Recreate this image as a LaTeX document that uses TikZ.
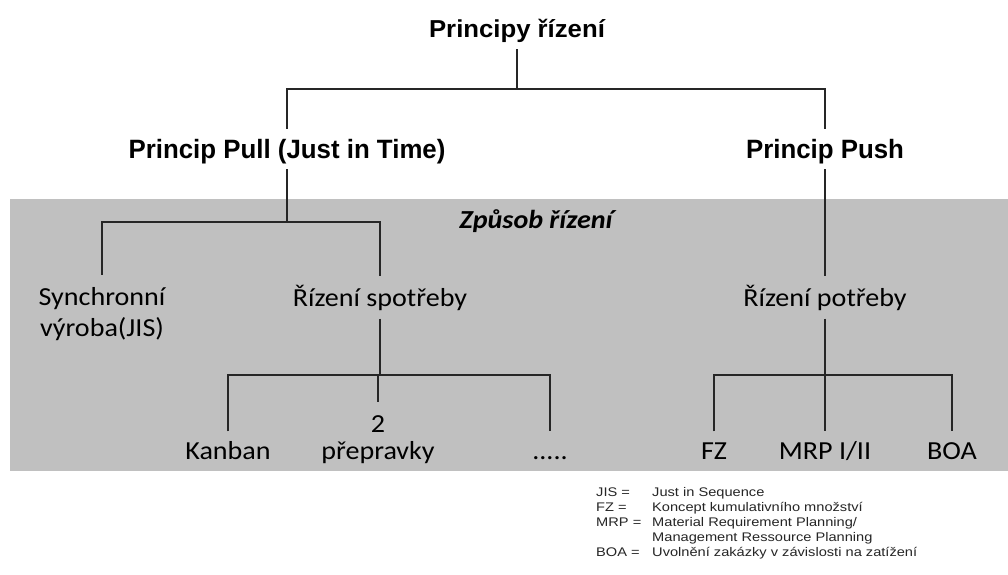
\documentclass[tikz,border=0pt]{standalone}
\usepackage{fontspec}
\setmainfont{Carlito}[FakeStretch=1.08]
\newfontfamily\rootfont[FakeStretch=1.05]{Liberation Sans}
\newfontfamily\titlefont[FakeStretch=0.975]{Liberation Sans}
\newfontfamily\notefont[FakeStretch=1.17]{Liberation Sans}
\begin{document}
\begin{tikzpicture}[x=1pt,y=-1pt,
  head/.style={font=\titlefont\bfseries\fontsize{26.5}{30}\selectfont, inner xsep=0pt, inner ysep=2pt,
               text height=27pt, text depth=9pt, anchor=base},
  leaf/.style={font=\fontsize{26}{31}\selectfont, inner xsep=0pt, inner ysep=2pt,
               text height=27.5pt, text depth=10.5pt, anchor=base, align=center},
  wire/.style={draw=black!85, line width=1.3pt},
  stem/.style={draw=black!85, line width=1.8pt},
  legend/.style={font=\notefont\fontsize{12.5}{15}\selectfont, text=black!85, anchor=base west, inner sep=0pt}]

  % canvas and shaded band
  \useasboundingbox (0,0) rectangle (1008,574);
  \fill[white] (0,0) rectangle (1008,574);
  \fill[fill={rgb,255:red,192;green,192;blue,192}] (10,199) rectangle (1008,471);

  % top levels
  \node[font=\rootfont\bfseries\fontsize{24.5}{28}\selectfont, inner sep=0pt, anchor=base,
        text depth=12pt] (root) at (517,37) {Principy řízení};
  \node[head] (pull) at (287,158) {Princip Pull (Just in Time)};
  \node[head] (push) at (825,158) {Princip Push};

  \node[font=\bfseries\itshape\fontsize{26}{30}\selectfont, anchor=base, inner sep=0pt]
    (mode) at (536,228) {Způsob řízení};

  % second level
  \node[leaf, text height=59pt] (sync) at (102,336) {Synchronní\\výroba(JIS)};
  \node[leaf] (spot) at (380,306) {Řízení spotřeby};
  \node[leaf] (potr) at (825,306) {Řízení potřeby};

  % third level
  \node[leaf, text height=25.5pt] (kanban) at (228,459) {Kanban};
  \node[leaf, text height=55pt] (prep) at (378,459) {2\\[-4pt]přepravky};
  \node[leaf, text height=25.5pt] (dots) at (550,459) {.....};
  \node[leaf, text height=25.5pt] (fz) at (714,459) {FZ};
  \node[leaf, text height=25.5pt] (mrp) at (825,459) {MRP I/II};
  \node[leaf, text height=25.5pt] (boa) at (952,459) {BOA};

  % connectors
  \coordinate (j0) at (517,89);
  \draw[wire] (root.south) -- (j0);
  \draw[wire] (pull.north) |- (j0) -| (push.north);

  \coordinate (j1) at (287,222);
  \draw[wire] (pull.south) -- (j1);
  \draw[wire] (sync.north) |- (j1) -| (spot.north);
  \draw[wire] (push.south) -- (potr.north);

  \coordinate (j2) at (380,375);
  \draw[stem] (spot.south) -- (j2);
  \draw[wire] (kanban.north) |- (j2) -| (dots.north);
  \draw[wire] (j2 -| prep.north) -- (prep.north);

  \coordinate (j3) at (825,375);
  \draw[stem] (potr.south) -- (j3);
  \draw[wire] (fz.north) |- (j3) -| (boa.north);
  \draw[wire] (j3) -- (mrp.north);

  % abbreviations
  \node[legend] (k1) at (596,496) {JIS =};
  \node[legend] (v1) at (652,496) {Just in Sequence};
  \node[legend] (k2) at (596,511) {FZ =};
  \node[legend] (v2) at (652,511) {Koncept kumulativního množství};
  \node[legend] (k3) at (596,526) {MRP =};
  \node[legend] (v3) at (652,526) {Material Requirement Planning/};
  \node[legend] (v4) at (652,541) {Management Ressource Planning};
  \node[legend] (k5) at (596,556) {BOA =};
  \node[legend] (v5) at (652,556) {Uvolnění zakázky v závislosti na zatížení};
\end{tikzpicture}
\end{document}
